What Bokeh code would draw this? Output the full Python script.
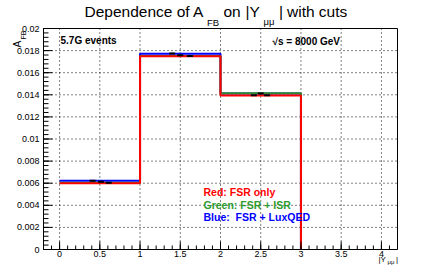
from bokeh.plotting import figure
from bokeh.models import Range1d
from bokeh.core.properties import value
from bokeh.embed import file_html
from bokeh.resources import INLINE
import numpy as np

# ---- data ----
bin_edges = [0, 1, 2, 3]
red_vals = [0.00600, 0.01750, 0.01393]     # FSR only
green_vals = [0.00605, 0.01752, 0.01413]   # FSR + ISR
blue_vals = [0.00622, 0.01772, 0.01412]    # FSR + LuxQED

marker_x = [0.41, 0.516, 0.61, 1.40, 1.50, 1.62, 2.415, 2.50, 2.58]
marker_y = [0.00623, 0.00612, 0.00603, 0.01774, 0.01758, 0.01752, 0.01396, 0.01412, 0.01396]

x_ticks = [0, 0.5, 1, 1.5, 2, 2.5, 3, 3.5, 4]
x_tick_labels = ["0", "0.5", "1", "1.5", "2", "2.5", "3", "3.5", "4"]
y_ticks = [0, 0.002, 0.004, 0.006, 0.008, 0.01, 0.012, 0.014, 0.016, 0.018, 0.02]
y_tick_labels = ["0", "0.002", "0.004", "0.006", "0.008", "0.01", "0.012",
                 "0.014", "0.016", "0.018", "0.02"]

XMIN, XMAX, YMIN, YMAX = -0.2, 4.2, 0.0, 0.02
FONT = "Liberation Sans"

# pixel geometry of the plotting box inside the canvas
FL, FT, FW, FH = 43, 28, 354, 221
W, H = 435, 269
PX = (XMAX - XMIN) / FW
PY = (YMAX - YMIN) / FH


def X(px):
    return XMIN + (px - FL) * PX


def Y(py):
    return YMAX - (py - FT) * PY


p = figure(width=W, height=H, min_border=0, output_backend="svg",
           toolbar_location=None, title=None,
           x_axis_location=None, y_axis_location=None,
           x_range=Range1d(X(0), X(W)), y_range=Range1d(Y(H), Y(0)))
p.background_fill_color = "white"
p.border_fill_color = "white"
p.outline_line_color = None
for g in p.grid:
    g.visible = False

# grid (dotted) at major ticks
p.segment(x0=x_ticks, y0=[YMIN] * len(x_ticks), x1=x_ticks, y1=[YMAX] * len(x_ticks),
          line_color="black", line_width=1, line_dash="1 3")
p.segment(x0=[XMIN] * len(y_ticks), y0=y_ticks, x1=[XMAX] * len(y_ticks), y1=y_ticks,
          line_color="black", line_width=1, line_dash="1 3")


def step_xy(vals):
    xs, ys = [], []
    for i, v in enumerate(vals):
        xs += [bin_edges[i], bin_edges[i] + 1]
        ys += [v, v]
    xs.append(xs[-1])
    ys.append(0)
    return xs, ys


for vals, col in ((blue_vals, "#0000ff"), (green_vals, "#2e8b2e"), (red_vals, "#ff0000")):
    xs, ys = step_xy(vals)
    p.line(xs, ys, line_color=col, line_width=2)

p.scatter(marker_x, marker_y, marker="dash", size=6, line_width=2, color="black")

# frame box
p.quad(left=[XMIN], right=[XMAX], bottom=[YMIN], top=[YMAX], fill_color=None,
       line_color="black", line_width=1)

# ticks
x_minor = list(np.round(np.arange(-0.2, 4.201, 0.1), 3))
y_minor = list(np.round(np.arange(0, 0.02001, 0.0004), 6))
p.segment(x0=x_ticks, y0=[YMIN] * len(x_ticks), x1=x_ticks, y1=[YMIN + 8 * PY] * len(x_ticks),
          line_color="black", line_width=1)
p.segment(x0=x_minor, y0=[YMIN] * len(x_minor), x1=x_minor, y1=[YMIN + 4 * PY] * len(x_minor),
          line_color="black", line_width=1)
p.segment(x0=[XMIN] * len(y_ticks), y0=y_ticks, x1=[XMIN + 9 * PX] * len(y_ticks), y1=y_ticks,
          line_color="black", line_width=1)
p.segment(x0=[XMIN] * len(y_minor), y0=y_minor, x1=[XMIN + 5 * PX] * len(y_minor), y1=y_minor,
          line_color="black", line_width=1)

# tick labels
p.text(x=x_ticks, y=[Y(FT + FH + 1)] * len(x_ticks), text=x_tick_labels,
       text_font=value(FONT), text_font_size="9px", text_color="black",
       text_align="center", text_baseline="top")
p.text(x=[X(FL - 4)] * len(y_ticks), y=y_ticks, text=y_tick_labels,
       text_font=value(FONT), text_font_size="9px", text_color="black",
       text_align="right", text_baseline="middle")


def txt(s, px, py, size, color="black", bold=False, angle=0.0):
    # (px, py): left end of the text, vertical middle of its capitals
    p.text(x=[X(px)], y=[Y(py)], text=[s], text_font=value(FONT),
           text_font_size=f"{size}px", text_color=color,
           text_font_style="bold" if bold else "normal",
           text_align="left", text_baseline="middle", angle=angle)


# title pieces
txt("Dependence of A", 84, 10.5, 15.5)
txt("FB", 206.5, 21.5, 9.5)
txt("on", 223, 10.5, 15.5)
txt("|Y", 245, 10.5, 15.5)
txt("μμ", 263, 20.8, 9.5)
txt("|", 278.5, 10.5, 15.5)
txt("with cuts", 286.5, 10.5, 15.5)

# axis titles
txt("A", 16.5, 47, 10, angle=np.pi / 2)
txt("FB", 22.5, 39, 7, angle=np.pi / 2)
txt("|Y", 378, 259.3, 8)
txt("μμ", 387, 261, 6)
txt("|", 395.5, 259.3, 8)

# annotations
txt("5.7G events", 60, 40.3, 10, bold=True)
txt("√s = 8000 GeV", 272, 40.5, 10, bold=True)
txt("Red: FSR only", 203, 191.2, 10.5, color="#ff0000", bold=True)
txt("Green: FSR + ISR", 203, 204, 10.5, color="#2e9a2e", bold=True)
txt("Blue:\u00a0 FSR + LuxQED", 203, 216.7, 10.5, color="#0000ff", bold=True)

open("out.html", "w").write(file_html(p, INLINE))
